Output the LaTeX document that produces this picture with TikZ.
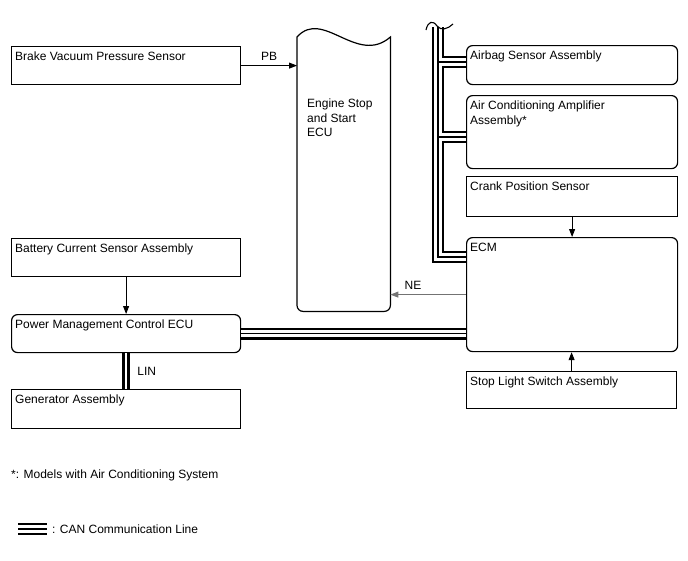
\documentclass[tikz,border=0pt]{standalone}
\usepackage{fontspec}
\setmainfont{Liberation Sans}
\usetikzlibrary{arrows.meta}
\begin{document}
\begin{tikzpicture}[x=1pt,y=-1pt,
  font=\fontsize{12}{14.3}\selectfont,
  ln/.style={draw, line width=1.2pt},
  box/.style={ln, anchor=north west, inner sep=0pt, minimum width=211pt},
  lbox/.style={box, minimum width=229pt},
  rbox/.style={box, rounded corners=6pt},
  lbl/.style={anchor=north west, inner xsep=4pt, inner ysep=6pt, align=left},
  arr/.style={line width=0.9pt, -{Triangle[length=8pt,width=6pt]}},
  can/.style={line width=12pt, line cap=butt, line join=miter,
    postaction={draw, white, line width=7.6pt, line cap=butt, line join=miter},
    postaction={draw, black, line width=1.6pt, line cap=butt, line join=miter}},
  lin/.style={line width=8pt, line cap=butt,
    postaction={draw, white, line width=1.7pt, line cap=butt}}
]
\path[use as bounding box] (0,0) rectangle (688,560);

% left column
\node[lbox, minimum height=38pt, label={[lbl]north west:Brake Vacuum Pressure Sensor}] (bvps) at (11,46) {};
\node[lbox, minimum height=38pt, label={[lbl]north west:Battery Current Sensor Assembly}] (bcs) at (11,238) {};
\node[lbox, rounded corners=6pt, minimum height=38pt, label={[lbl]north west:Power Management Control ECU}] (pmc) at (11,314) {};
\node[lbox, minimum height=39pt, label={[lbl]north west:Generator Assembly}] (gen) at (11,389) {};

% engine stop and start ECU
\node[anchor=north west, inner sep=0pt, minimum width=93pt, minimum height=274pt] (ecu) at (297,37) {};
\draw[line width=1.2pt] (ecu.north west) .. controls (323,8) and (357,66) .. (ecu.north east)
  [rounded corners=6pt] -- (ecu.south east) -- (ecu.south west) [sharp corners] -- cycle;
\node[anchor=north west, inner sep=0pt, align=left] (ecut) at (307,99) {Engine Stop\\and Start\\ECU};

% right column
\node[rbox, minimum height=39pt, label={[lbl]north west:Airbag Sensor Assembly}] (airbag) at (466,45) {};
\node[rbox, minimum height=73pt, label={[lbl]north west:Air Conditioning Amplifier\\Assembly*}] (aircon) at (466,95) {};
\node[box, minimum height=40pt, label={[lbl]north west:Crank Position Sensor}] (crank) at (466,176) {};
\node[rbox, minimum height=114pt, label={[lbl]north west:ECM}] (ecm) at (466,237) {};
\node[box, minimum width=210pt, minimum height=37pt, label={[lbl]north west:Stop Light Switch Assembly}] (stop) at (466,371) {};

% signal arrows
\draw[arr] (bvps.east) -- (bvps.east -| ecu.west) node[midway, above=1pt] (pb) {PB};
\draw[arr, draw=black!55] (ecm.west) -- (ecm.west -| ecu.east) node[pos=0.7, above=1pt, text=black] (ne) {NE};
\draw[arr] (crank.south) -- (crank.south |- ecm.north);
\draw[arr] (stop.north) -- (stop.north |- ecm.south);
\draw[arr] (bcs.south) -- (bcs.south |- pmc.north);

% LIN
\draw[lin] (pmc.south) -- (pmc.south |- gen.north) node[midway, right=4pt] (lin) {LIN};

% CAN bus
\coordinate (bt) at (438,27);
\coordinate (bc) at (438,257);
\coordinate (b1) at (438,62);
\coordinate (b2) at (438,137);
\draw[can] (bt) -- (bc) -- (bc -| ecm.west)
  (b1) -- (b1 -| airbag.west)
  (b2) -- (b2 -| aircon.west)
  (pmc.east) -- (pmc.east -| ecm.west);
\coordinate (sq1) at (426,30);
\coordinate (sq2) at (437,26);
\coordinate (sq3) at (453,24);
\draw[line width=1.1pt] (sq1) .. controls (428,21) and (433,20) .. (sq2) .. controls (441,31) and (448,29) .. (sq3);

% notes and legend
\node[anchor=west, inner sep=0pt] (note) at (11,475) {*: Models with Air Conditioning System};
\coordinate (lg1) at (18,529);
\coordinate (lg2) at (47,529);
\draw[can] (lg1) -- (lg2);
\node[anchor=west, inner sep=0pt] (legtxt) at (52,529) {: CAN Communication Line};
\end{tikzpicture}
\end{document}
